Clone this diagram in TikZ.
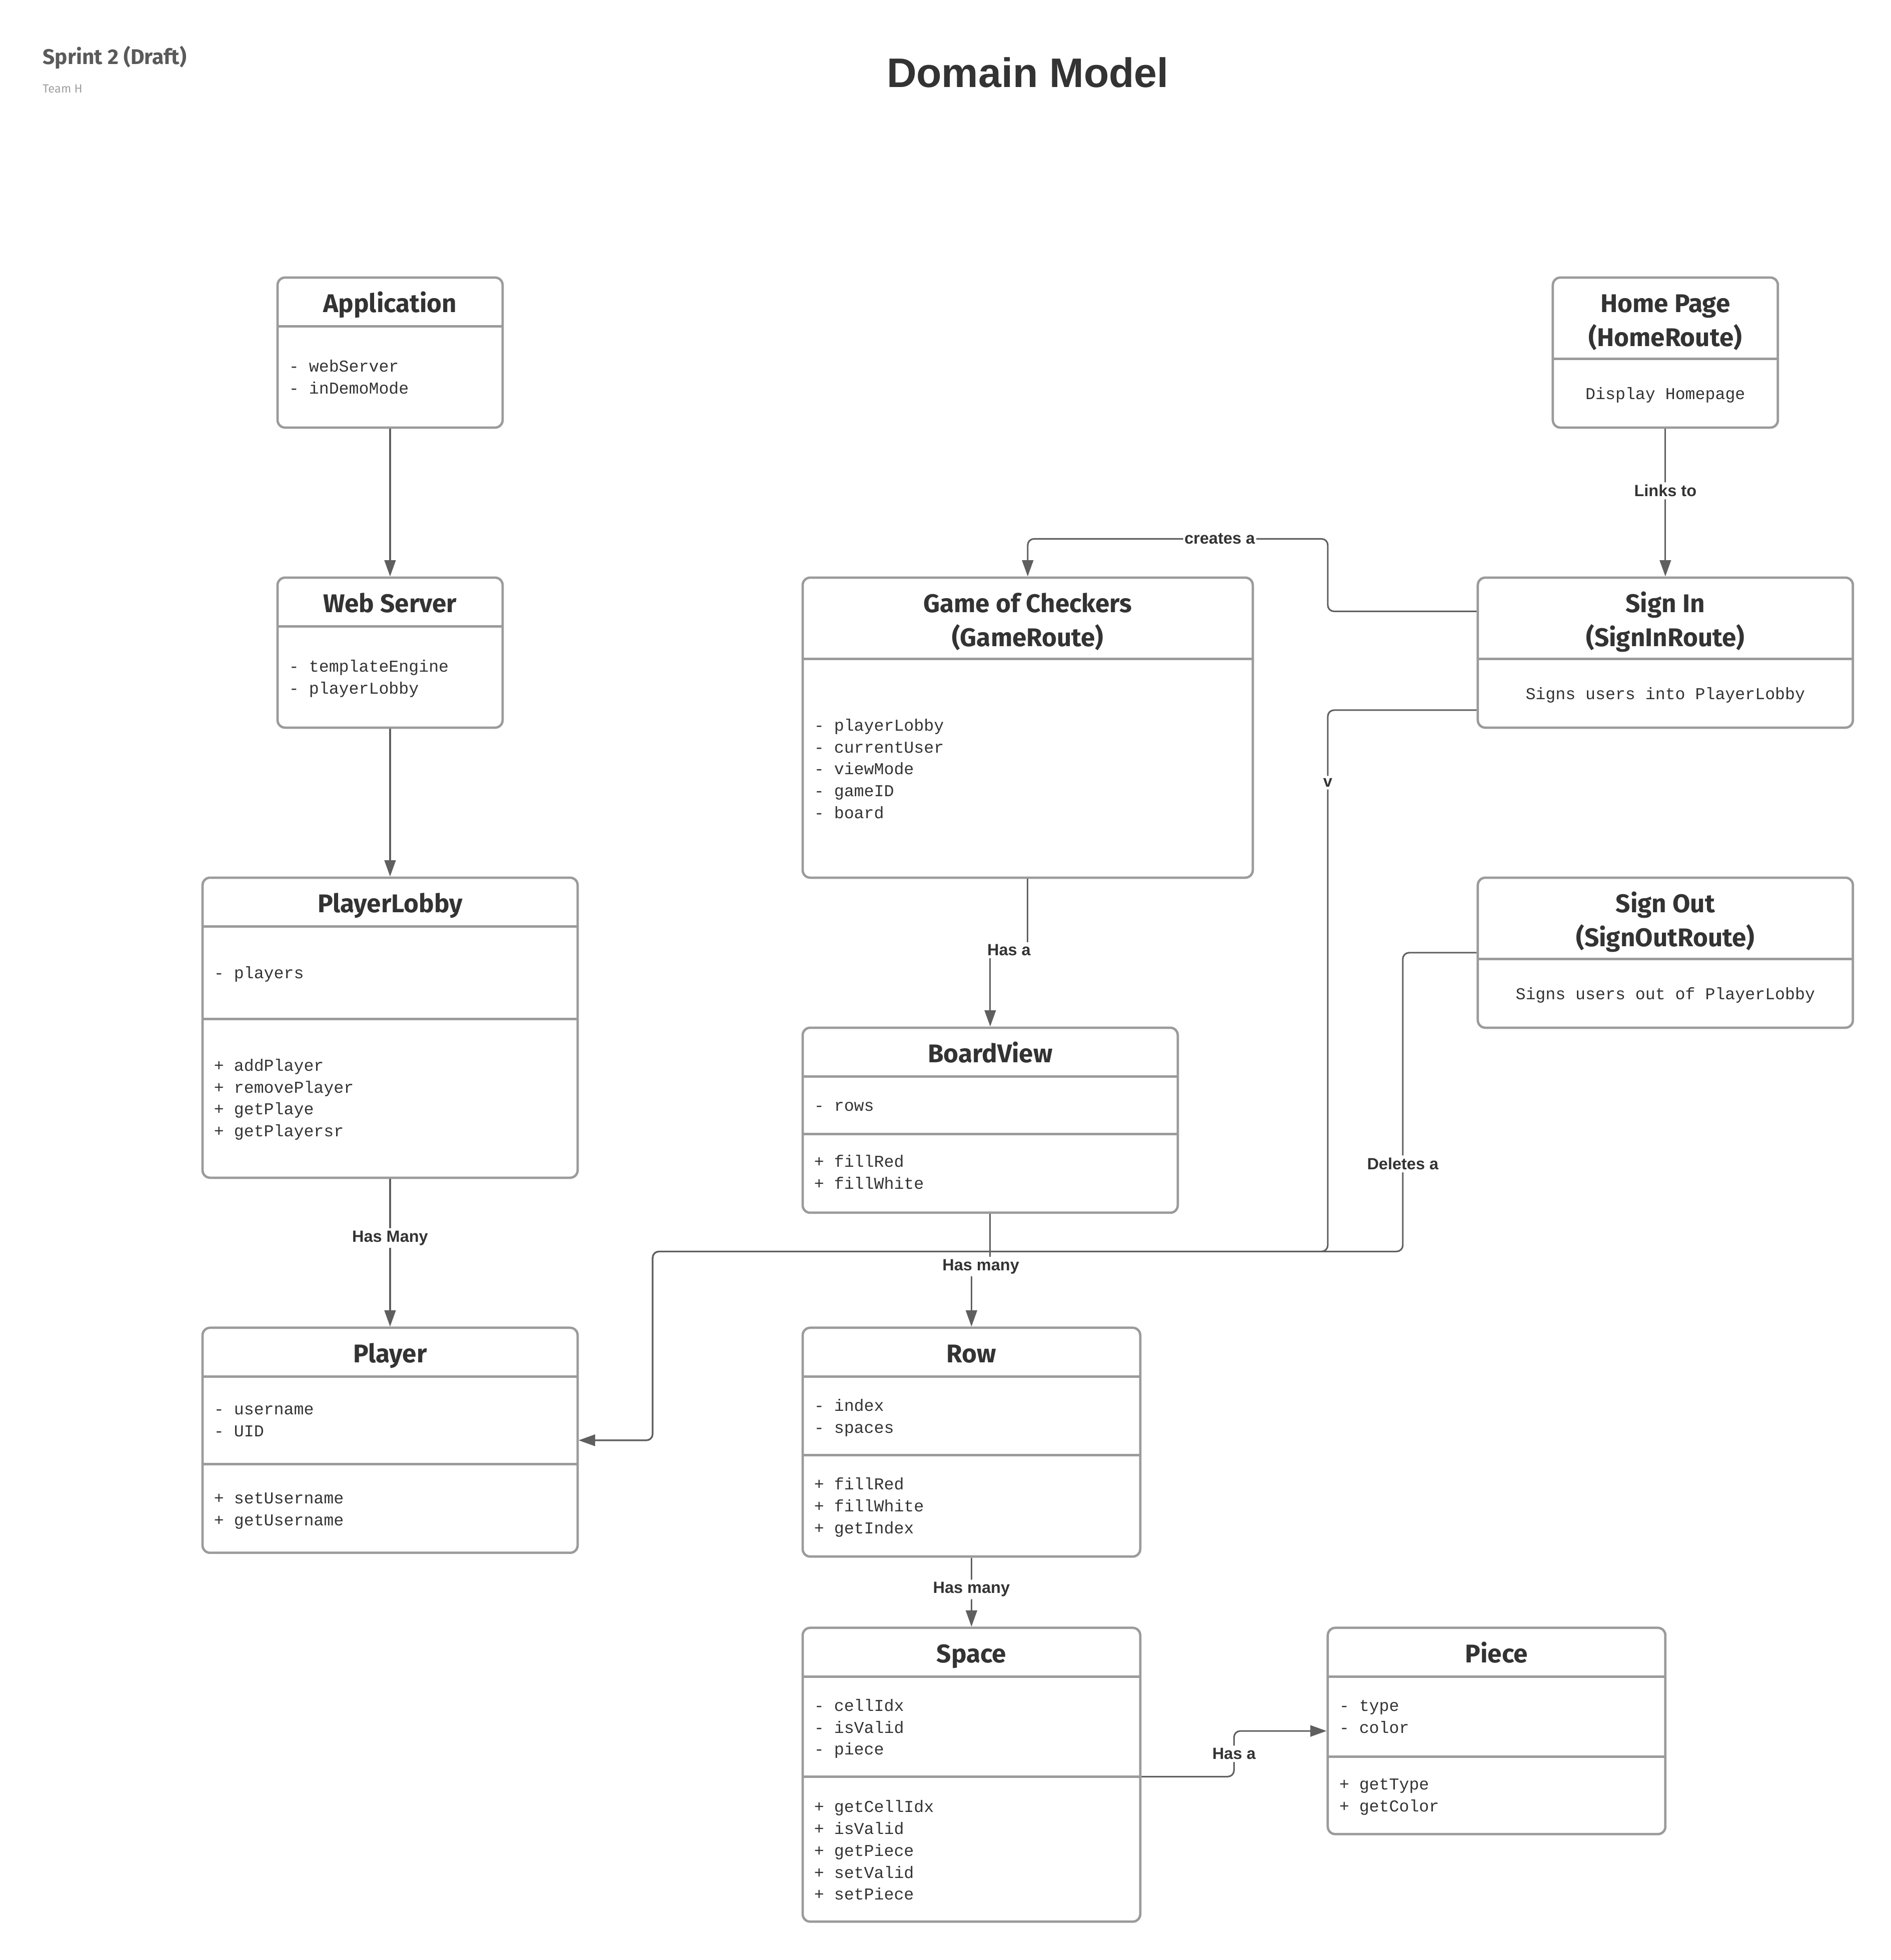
\documentclass[tikz,border=0pt]{standalone}
\usepackage{fontspec}
\usetikzlibrary{arrows.meta}
\newfontfamily\headfont{Fira Sans}
\newfontfamily\lblfont{Liberation Sans}
\newfontfamily\monofont{Liberation Mono}
\definecolor{boxgray}{HTML}{9B9B9B}
\definecolor{lnk}{HTML}{5F5F5F}
\definecolor{txt}{HTML}{333333}
\definecolor{subgray}{HTML}{5A5A5A}
\definecolor{faint}{HTML}{A0A0A0}
\tikzset{
  umlbox/.style={draw=boxgray, line width=1.9pt, rounded corners=6pt, fill=white, inner sep=0pt},
  divline/.style={draw=boxgray, line width=1.9pt},
  ttl/.style={font=\headfont\bfseries\fontsize{20.5}{24}\selectfont, text=txt, anchor=base, inner sep=0pt},
  mono/.style={font=\monofont\fontsize{13.3}{16}\selectfont, text=txt, anchor=base west, inner sep=0pt},
  desc/.style={font=\monofont\fontsize{13.3}{16}\selectfont, text=txt, anchor=base, inner sep=0pt},
  conn/.style={draw=lnk, line width=1.25pt, rounded corners=5pt, -{Triangle[length=13pt,width=9pt]}},
  lbl/.style={font=\lblfont\bfseries\fontsize{13}{15}\selectfont, text=txt, fill=white, inner sep=2pt},
}
\newcommand{\boxlines}[4]{%
  \foreach \t [count=\i] in {#4} \node[mono] (#1-\i) at (#2, {#3+17.5*(\i-1)+4.6}) {\t};}
\begin{document}
\begin{tikzpicture}[x=1pt,y=-1pt]
\fill[white] (0,0) rectangle (1512.1,1567.7);
\useasboundingbox (0,0) rectangle (1512.1,1567.7);

% header texts
\node[font=\lblfont\bfseries\fontsize{33}{36}\selectfont, text=txt, inner sep=0pt] (title) at (822,58) {Domain Model};
\node[font=\headfont\bfseries\fontsize{17}{20}\selectfont, text=subgray, anchor=west, inner sep=0pt] (sprint) at (34,46) {Sprint 2 (Draft)};
\node[font=\headfont\fontsize{9.5}{11}\selectfont, text=faint, anchor=west, inner sep=0pt] (team) at (34,71) {Team H};

% boxes
\node[umlbox, minimum width=180pt, minimum height=120pt] (app) at (312,282) {};
\node[umlbox, minimum width=180pt, minimum height=120pt] (web) at (312,522) {};
\node[umlbox, minimum width=300pt, minimum height=240pt] (lobby) at (312,822) {};
\node[umlbox, minimum width=300pt, minimum height=180pt] (player) at (312,1152) {};
\node[umlbox, minimum width=360pt, minimum height=240pt] (game) at (822,582) {};
\node[umlbox, minimum width=300pt, minimum height=148pt] (board) at (792,896) {};
\node[umlbox, minimum width=270pt, minimum height=183pt] (row) at (777,1153.5) {};
\node[umlbox, minimum width=270pt, minimum height=235pt] (space) at (777,1419.5) {};
\node[umlbox, minimum width=270pt, minimum height=165pt] (piece) at (1197,1384.5) {};
\node[umlbox, minimum width=180pt, minimum height=120pt] (home) at (1332,282) {};
\node[umlbox, minimum width=300pt, minimum height=120pt] (signin) at (1332,522) {};
\node[umlbox, minimum width=300pt, minimum height=120pt] (signout) at (1332,762) {};

% dividers
\draw[divline] (222,261) -- (402,261);
\draw[divline] (222,501) -- (402,501);
\draw[divline] (162,741) -- (462,741);
\draw[divline] (162,815) -- (462,815);
\draw[divline] (162,1101) -- (462,1101);
\draw[divline] (162,1171) -- (462,1171);
\draw[divline] (642,527) -- (1002,527);
\draw[divline] (642,861) -- (942,861);
\draw[divline] (642,907) -- (942,907);
\draw[divline] (642,1101) -- (912,1101);
\draw[divline] (642,1164) -- (912,1164);
\draw[divline] (642,1341) -- (912,1341);
\draw[divline] (642,1421) -- (912,1421);
\draw[divline] (1062,1341) -- (1332,1341);
\draw[divline] (1062,1405) -- (1332,1405);
\draw[divline] (1242,287) -- (1422,287);
\draw[divline] (1182,527) -- (1482,527);
\draw[divline] (1182,767) -- (1482,767);

% titles
\node[ttl] (appT) at (312,250) {Application};
\node[ttl] (webT) at (312,490) {Web Server};
\node[ttl] (lobbyT) at (312,730) {PlayerLobby};
\node[ttl] (playerT) at (312,1090) {Player};
\node[ttl] (gameT1) at (822,490) {Game of Checkers};
\node[ttl] (gameT2) at (822,517) {(GameRoute)};
\node[ttl] (boardT) at (792,850) {BoardView};
\node[ttl] (rowT) at (777,1090) {Row};
\node[ttl] (spaceT) at (777,1330) {Space};
\node[ttl] (pieceT) at (1197,1330) {Piece};
\node[ttl] (homeT1) at (1332,250) {Home Page};
\node[ttl] (homeT2) at (1332,277) {(HomeRoute)};
\node[ttl] (signinT1) at (1332,490) {Sign In};
\node[ttl] (signinT2) at (1332,517) {(SignInRoute)};
\node[ttl] (signoutT1) at (1332,730) {Sign Out};
\node[ttl] (signoutT2) at (1332,757) {(SignOutRoute)};

% contents
\boxlines{appa}{231}{293}{- webServer,- inDemoMode}
\boxlines{weba}{231}{533}{- templateEngine,- playerLobby}
\boxlines{lobbya}{171}{778}{- players}
\boxlines{lobbym}{171}{852}{+ addPlayer,+ removePlayer,+ getPlaye,+ getPlayersr}
\boxlines{playera}{171}{1127}{- username,- UID}
\boxlines{playerm}{171}{1198}{+ setUsername,+ getUsername}
\boxlines{gamea}{651}{580}{- playerLobby,- currentUser,- viewMode,- gameID,- board}
\boxlines{boarda}{651}{884}{- rows}
\boxlines{boardm}{651}{929}{+ fillRed,+ fillWhite}
\boxlines{rowa}{651}{1124}{- index,- spaces}
\boxlines{rowm}{651}{1187}{+ fillRed,+ fillWhite,+ getIndex}
\boxlines{spacea}{651}{1364}{- cellIdx,- isValid,- piece}
\boxlines{spacem}{651}{1445}{+ getCellIdx,+ isValid,+ getPiece,+ setValid,+ setPiece}
\boxlines{piecea}{1071}{1364}{- type,- color}
\boxlines{piecem}{1071}{1427}{+ getType,+ getColor}
\node[desc] (homeD) at (1332,319.6) {Display Homepage};
\node[desc] (signinD) at (1332,559.6) {Signs users into PlayerLobby};
\node[desc] (signoutD) at (1332,799.6) {Signs users out of PlayerLobby};

% connectors
\draw[conn] (app.south) -- (web.north);
\draw[conn] (web.south) -- (lobby.north);
\draw[conn] (lobby.south) -- node[lbl, pos=0.4] {Has Many} (player.north);
\draw[conn] (home.south) -- node[lbl, pos=0.42] {Links to} (signin.north);
\draw[conn] ([yshift=33pt]signin.west) -- (1062,489) -- (1062,431)
   -- node[lbl, pos=0.36, inner sep=1pt] {creates a} (822,431) -- (game.north);
\draw[conn] (signout.west) -- (1122,762) -- node[lbl, pos=0.707] {Deletes a} (1122,1001)
   -- (522,1001) -- (522,1152) -- (player.east);
\draw[conn] ([yshift=-46pt]signin.west) -- (1062,568) -- node[lbl, pos=0.134] {v} (1062,1001)
   -- (522,1001) -- (522,1152) -- (player.east);
\draw[conn, rounded corners=0pt] (game.south) -- (822,760) -- node[lbl] {Has a} (792,760) -- (board.north);
\draw[conn, rounded corners=0pt] (board.south) -- (792,1013) -- node[lbl] {Has many} (777,1013) -- (row.north);
\draw[conn] (row.south) -- node[lbl, pos=0.46] {Has many} (space.north);
\draw[conn] ([yshift=-1.5pt]space.east) -- (987,1421) -- node[lbl] {Has a} (987,1384.5) -- (piece.west);
\end{tikzpicture}
\end{document}
